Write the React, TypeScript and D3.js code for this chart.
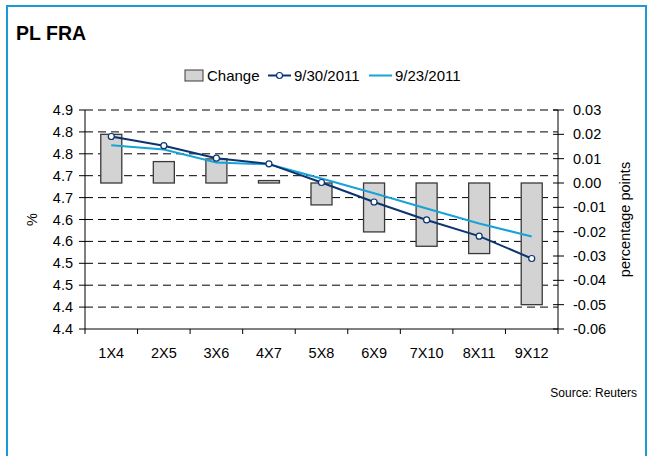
import React from "react";
import * as d3 from "d3";

const categories = ["1X4", "2X5", "3X6", "4X7", "5X8", "6X9", "7X10", "8X11", "9X12"];
const change = [0.02, 0.0088, 0.0099, 0.001, -0.009, -0.0201, -0.026, -0.029, -0.05];
const sep30 = [4.8395, 4.8185, 4.79, 4.777, 4.7345, 4.69, 4.649, 4.612, 4.561];
const sep23 = [4.8195, 4.8097, 4.78, 4.776, 4.7435, 4.71, 4.675, 4.641, 4.611];
const leftTicks = [4.9, 4.85, 4.8, 4.75, 4.7, 4.65, 4.6, 4.55, 4.5, 4.45, 4.4];
const leftTickLabels = ["4.9", "4.8", "4.8", "4.7", "4.7", "4.6", "4.6", "4.5", "4.5", "4.4", "4.4"];
const rightTicks = [0.03, 0.02, 0.01, 0, -0.01, -0.02, -0.03, -0.04, -0.05, -0.06];
const rightTickLabels = ["0.03", "0.02", "0.01", "0.00", "-0.01", "-0.02", "-0.03", "-0.04", "-0.05", "-0.06"];
const seriesNames = ["Change", "9/30/2011", "9/23/2011"];
const title = "PL FRA";
const source = "Source: Reuters";

const W = 650;
const H = 456;
const plotLeft = 85;
const plotRight = 558;
const plotTop = 110;
const plotBottom = 329;
const FONT = "'Liberation Sans', Arial, sans-serif";
const DARK = "#0b3470";
const LIGHT = "#17a2d8";
const BAR_FILL = "#d3d3d3";
const BAR_STROKE = "#3a3a3a";

export default function App() {
  const x = d3.scaleBand<string>().domain(categories).range([plotLeft, plotRight]).padding(0);
  const yL = d3.scaleLinear().domain([4.4, 4.9]).range([plotBottom, plotTop]);
  const yR = d3.scaleLinear().domain([-0.06, 0.03]).range([plotBottom, plotTop]);
  const bw = x.bandwidth() * 0.4;
  const cx = (c: string) => (x(c) as number) + x.bandwidth() / 2;

  const line = d3
    .line<number>()
    .x((_, i) => cx(categories[i]))
    .y((d) => yL(d));

  const boundaries = d3.range(categories.length + 1).map((i) => plotLeft + i * x.step());

  return (
    <svg
      width={W}
      height={H}
      style={{ position: "absolute", left: 0, top: 0, background: "#fff" }}
      fontFamily={FONT}
    >
      <rect x={0} y={0} width={W} height={H} fill="#fff" />
      {/* frame */}
      <rect x={7} y={6} width={639} height={470} fill="none" stroke="#1a9ad6" strokeWidth={2} />

      <text x={16} y={40} fontSize={19.5} fontWeight="bold" fill="#000">
        {title}
      </text>

      {/* legend */}
      <g fontSize={15} fill="#000">
        <rect x={185} y={70} width={18} height={11} fill={BAR_FILL} stroke={BAR_STROKE} strokeWidth={1} />
        <text x={207} y={81}>{seriesNames[0]}</text>
        <line x1={268} x2={291} y1={75.5} y2={75.5} stroke={DARK} strokeWidth={2} />
        <circle cx={279.5} cy={75.5} r={3} fill="#fff" stroke={DARK} strokeWidth={1.2} />
        <text x={294} y={81}>{seriesNames[1]}</text>
        <line x1={369} x2={392} y1={75.5} y2={75.5} stroke={LIGHT} strokeWidth={2} />
        <text x={395} y={81}>{seriesNames[2]}</text>
      </g>

      {/* gridlines */}
      {leftTicks.slice(0, -1).map((t, i) => (
        <line
          key={"g" + i}
          x1={plotLeft}
          x2={plotRight}
          y1={yL(t)}
          y2={yL(t)}
          stroke="#000"
          strokeWidth={1}
          strokeDasharray="8,5"
        />
      ))}

      {/* bars */}
      {change.map((v, i) => {
        const c = categories[i];
        const y0 = yR(0);
        const y1 = yR(v);
        return (
          <rect
            key={"b" + i}
            x={cx(c) - bw / 2}
            y={Math.min(y0, y1)}
            width={bw}
            height={Math.max(Math.abs(y1 - y0), 1)}
            fill={BAR_FILL}
            stroke={BAR_STROKE}
            strokeWidth={1.3}
          />
        );
      })}

      {/* lines */}
      <path d={line(sep23) || ""} fill="none" stroke={LIGHT} strokeWidth={2} />
      <path d={line(sep30) || ""} fill="none" stroke={DARK} strokeWidth={2} />
      {sep30.map((v, i) => (
        <circle key={"m" + i} cx={cx(categories[i])} cy={yL(v)} r={3} fill="#fff" stroke={DARK} strokeWidth={1.2} />
      ))}

      {/* axes */}
      <line x1={plotLeft} x2={plotLeft} y1={plotTop} y2={plotBottom} stroke="#000" />
      <line x1={plotRight} x2={plotRight} y1={plotTop} y2={plotBottom} stroke="#000" />
      <line x1={plotLeft} x2={plotRight} y1={plotBottom} y2={plotBottom} stroke="#000" />

      {leftTicks.map((t, i) => (
        <g key={"lt" + i}>
          <line x1={plotLeft - 6} x2={plotLeft} y1={yL(t)} y2={yL(t)} stroke="#000" />
          <text x={73} y={yL(t) + 5} textAnchor="end" fontSize={14.5} fill="#000">
            {leftTickLabels[i]}
          </text>
        </g>
      ))}

      {rightTicks.map((t, i) => (
        <g key={"rt" + i}>
          <line x1={plotRight - 5} x2={plotRight + 6} y1={yR(t)} y2={yR(t)} stroke="#000" />
          <text x={573} y={yR(t) + 5} textAnchor="start" fontSize={14.5} fill="#000">
            {rightTickLabels[i]}
          </text>
        </g>
      ))}

      {boundaries.map((b, i) => (
        <line key={"xt" + i} x1={b} x2={b} y1={plotBottom} y2={plotBottom + 5} stroke="#000" />
      ))}
      {categories.map((c) => (
        <text key={"xl" + c} x={cx(c)} y={358} textAnchor="middle" fontSize={14.5} fill="#000">
          {c}
        </text>
      ))}

      <text transform={`translate(37,${(plotTop + plotBottom) / 2}) rotate(-90)`} textAnchor="middle" fontSize={14.5} fill="#000">
        %
      </text>
      <text transform={`translate(630,${(plotTop + plotBottom) / 2}) rotate(-90)`} textAnchor="middle" fontSize={14.5} fill="#000">
        percentage points
      </text>

      <text x={637} y={397} textAnchor="end" fontSize={12} fill="#000">
        {source}
      </text>
    </svg>
  );
}
